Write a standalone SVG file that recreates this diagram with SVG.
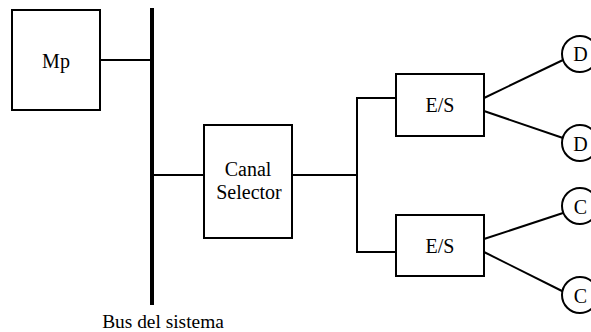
<svg xmlns="http://www.w3.org/2000/svg" width="591" height="332" viewBox="0 0 591 332">
  <style>
    .box { fill: #ffffff; stroke: #000000; stroke-width: 2; }
    .dev { fill: #ffffff; stroke: #000000; stroke-width: 2; }
    .wire { fill: none; stroke: #000000; stroke-width: 2; }
    .bus { fill: none; stroke: #000000; stroke-width: 4; }
    text { font-family: "Liberation Serif", "Times New Roman", serif; font-size: 20px; fill: #000000; text-anchor: middle; }
  </style>
  <rect width="591" height="332" fill="#ffffff"/>

  <g id="connectors">
    <line class="bus" x1="152" y1="8" x2="152" y2="305"/>
    <line class="wire" x1="100" y1="60" x2="152" y2="60"/>
    <line class="wire" x1="152" y1="175" x2="204" y2="175"/>
    <line class="wire" x1="292" y1="175" x2="357" y2="175"/>
    <polyline class="wire" points="396,98 357,98 357,252 396,252"/>
    <line class="wire" x1="484" y1="98" x2="563" y2="60"/>
    <line class="wire" x1="484" y1="111" x2="563" y2="138"/>
    <line class="wire" x1="484" y1="239" x2="563" y2="213"/>
    <line class="wire" x1="484" y1="252" x2="564" y2="292"/>
  </g>

  <g id="mp">
    <rect class="box" x="12" y="10" width="88" height="100"/>
    <text x="56" y="68">Mp</text>
  </g>

  <g id="canal-selector">
    <rect class="box" x="204" y="125" width="88" height="113"/>
    <text x="248" y="176">Canal</text>
    <text x="249" y="199">Selector</text>
  </g>

  <g id="es-top">
    <rect class="box" x="396" y="74" width="88" height="62"/>
    <text x="440" y="111.5">E/S</text>
  </g>

  <g id="es-bottom">
    <rect class="box" x="396" y="215" width="88" height="61"/>
    <text x="440" y="252.5">E/S</text>
  </g>

  <g id="d1">
    <circle class="dev" cx="580" cy="54" r="18"/>
    <text x="580.5" y="61">D</text>
  </g>
  <g id="d2">
    <circle class="dev" cx="580" cy="143" r="18"/>
    <text x="580.5" y="150.5">D</text>
  </g>
  <g id="c1">
    <circle class="dev" cx="580" cy="206" r="18"/>
    <text x="580.5" y="214">C</text>
  </g>
  <g id="c2">
    <circle class="dev" cx="580" cy="295" r="18"/>
    <text x="580.5" y="303">C</text>
  </g>

  <g id="bus-label">
    <text x="163" y="328" style="font-size:19.4px">Bus del sistema</text>
  </g>
</svg>
